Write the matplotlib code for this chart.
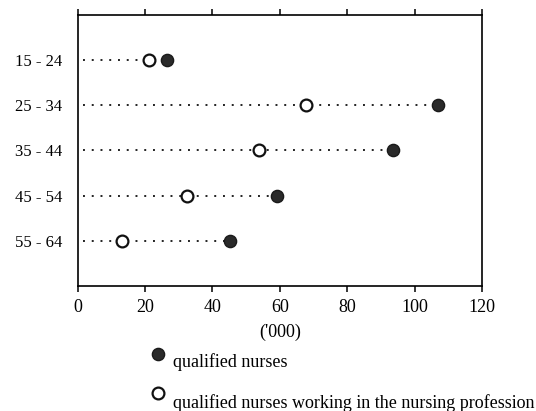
import matplotlib
matplotlib.use("Agg")
import matplotlib.pyplot as plt
from matplotlib.lines import Line2D

# age groups and values ('000)
age_groups = ["15 - 24", "25 - 34", "35 - 44", "45 - 54", "55 - 64"]
qualified = [26.6, 107.1, 93.7, 59.3, 45.2]
working = [21.3, 67.8, 53.9, 32.4, 13.1]
x_ticks = [0, 20, 40, 60, 80, 100, 120]

plt.rcParams['font.family'] = ['Liberation Serif', 'DejaVu Serif']

fig = plt.figure(figsize=(5.36, 4.11), dpi=100)
ax = fig.add_axes([0.1446, 0.3041, 0.7546, 0.6599])

ypos = list(range(len(age_groups)))
for y, q in zip(ypos, qualified):
    ax.plot([1.5, q], [y, y], color="#222222", lw=1.4, linestyle=(0, (1, 3.5)), zorder=1)

ax.plot(qualified, ypos, "o", color="#2a2a2a", ms=8.8, mec="#1a1a1a", zorder=3)
ax.plot(working, ypos, "o", color="white", ms=8.5, mec="#111111", mew=1.6, zorder=3)

ax.set_xlim(0, 120)
ax.set_ylim(5, -1)
ax.set_xticks(x_ticks)
ax.set_yticks(ypos)
ax.set_yticklabels(age_groups)
ax.tick_params(axis="x", which="both", top=True, bottom=True, direction="out",
               length=4, width=1.1, labelsize=13, pad=5)
ax.tick_params(axis="y", length=0, labelsize=12, pad=11)
for s in ax.spines.values():
    s.set_linewidth(1.2)

ax.set_xlabel("('000)", fontsize=13, labelpad=6)

# legend drawn underneath the axes
fig.add_artist(Line2D([158.3 / 536], [1 - 354 / 411], marker="o", color="#2a2a2a",
                      ms=8.8, mec="#1a1a1a", transform=fig.transFigure))
fig.text(173 / 536, 1 - 362 / 411, "qualified nurses", fontsize=13, va="center", ha="left")
fig.add_artist(Line2D([158.3 / 536], [1 - 392.7 / 411], marker="o", color="white",
                      ms=8.5, mec="#111111", mew=1.6, transform=fig.transFigure))
fig.text(173 / 536, 1 - 403.3 / 411, "qualified nurses working in the nursing profession",
         fontsize=13, va="center", ha="left")

plt.savefig("out.png", dpi=100)
